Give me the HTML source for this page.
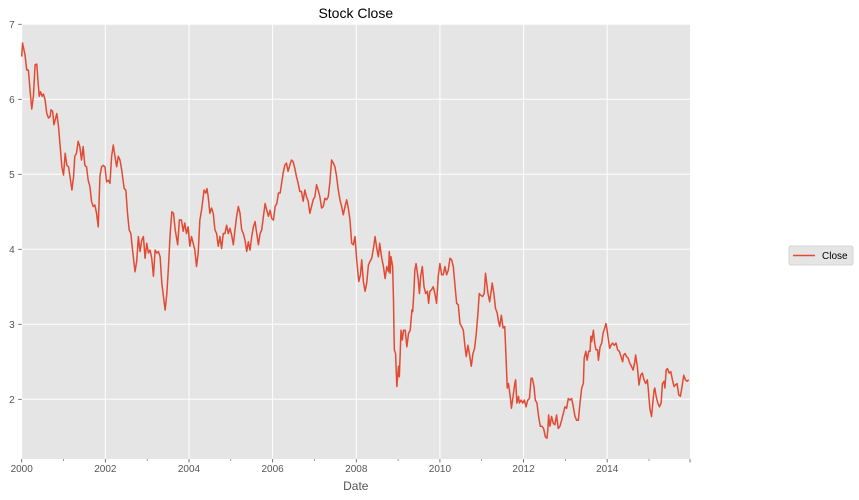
<!DOCTYPE html>
<html><head><meta charset="utf-8"><style>
html,body{margin:0;padding:0;background:#fff;}
svg{display:block;font-family:"Liberation Sans","DejaVu Sans",sans-serif;}
</style></head><body>
<svg id="chart" width="859" height="500" viewBox="0 0 859 500" xmlns="http://www.w3.org/2000/svg">
<rect x="21.7" y="24.3" width="668.3" height="434.7" fill="#e5e5e5"/>
<g id="grid"></g>
<g id="axes"></g>
<path id="line" fill="none" stroke="#e24a33" stroke-width="1.5" stroke-linejoin="round"/>
<text x="355.8" y="18" text-anchor="middle" font-size="14" fill="#000">Stock Close</text>
<text x="355.8" y="490" text-anchor="middle" font-size="12" fill="#555">Date</text>
<g>
<rect x="789" y="246" width="64" height="19" rx="2" fill="#e5e5e5" stroke="#ccc" stroke-width="0.8"/>
<line x1="793" y1="255.5" x2="815" y2="255.5" stroke="#e24a33" stroke-width="1.5"/>
<text x="822" y="259" font-size="10" fill="#000">Close</text>
</g>
</svg>
<script>
const years=[2000.00,2000.02,2000.08,2000.12,2000.16,2000.20,2000.24,2000.28,2000.32,2000.36,2000.40,2000.42,2000.45,2000.49,2000.52,2000.56,2000.60,2000.64,2000.68,2000.70,2000.74,2000.77,2000.84,2000.88,2000.92,2000.96,2001.00,2001.04,2001.08,2001.12,2001.16,2001.20,2001.24,2001.27,2001.31,2001.35,2001.39,2001.43,2001.47,2001.51,2001.55,2001.59,2001.63,2001.67,2001.71,2001.75,2001.79,2001.83,2001.87,2001.91,2001.95,2001.99,2002.03,2002.07,2002.11,2002.15,2002.19,2002.23,2002.27,2002.31,2002.35,2002.39,2002.45,2002.49,2002.53,2002.57,2002.61,2002.65,2002.71,2002.75,2002.79,2002.83,2002.87,2002.91,2002.95,2002.99,2003.03,2003.07,2003.11,2003.15,2003.19,2003.23,2003.27,2003.31,2003.35,2003.39,2003.43,2003.47,2003.51,2003.55,2003.59,2003.63,2003.67,2003.73,2003.77,2003.82,2003.86,2003.90,2003.94,2003.98,2004.02,2004.06,2004.10,2004.14,2004.18,2004.22,2004.26,2004.30,2004.36,2004.40,2004.43,2004.46,2004.50,2004.54,2004.58,2004.62,2004.66,2004.70,2004.74,2004.78,2004.82,2004.86,2004.90,2004.94,2004.98,2005.02,2005.06,2005.10,2005.14,2005.18,2005.22,2005.26,2005.30,2005.34,2005.38,2005.42,2005.46,2005.50,2005.54,2005.58,2005.62,2005.66,2005.70,2005.74,2005.78,2005.82,2005.86,2005.90,2005.94,2005.98,2006.02,2006.06,2006.10,2006.14,2006.18,2006.22,2006.25,2006.29,2006.33,2006.37,2006.41,2006.45,2006.49,2006.53,2006.57,2006.61,2006.65,2006.69,2006.73,2006.77,2006.81,2006.85,2006.89,2006.93,2006.97,2007.01,2007.05,2007.09,2007.13,2007.17,2007.21,2007.25,2007.29,2007.33,2007.37,2007.41,2007.45,2007.49,2007.53,2007.57,2007.61,2007.65,2007.69,2007.73,2007.77,2007.81,2007.85,2007.89,2007.93,2007.97,2008.01,2008.06,2008.10,2008.13,2008.17,2008.21,2008.25,2008.29,2008.33,2008.37,2008.41,2008.45,2008.49,2008.53,2008.56,2008.61,2008.65,2008.69,2008.73,2008.77,2008.79,2008.81,2008.83,2008.87,2008.89,2008.91,2008.94,2008.97,2009.01,2009.03,2009.07,2009.10,2009.13,2009.17,2009.21,2009.25,2009.29,2009.33,2009.35,2009.38,2009.40,2009.43,2009.48,2009.51,2009.54,2009.58,2009.62,2009.66,2009.70,2009.73,2009.76,2009.80,2009.84,2009.88,2009.92,2009.96,2010.00,2010.04,2010.08,2010.12,2010.16,2010.20,2010.24,2010.28,2010.32,2010.36,2010.40,2010.44,2010.48,2010.52,2010.56,2010.60,2010.63,2010.67,2010.71,2010.75,2010.79,2010.83,2010.87,2010.91,2010.94,2010.97,2011.02,2011.06,2011.09,2011.11,2011.15,2011.19,2011.23,2011.25,2011.29,2011.33,2011.37,2011.40,2011.43,2011.47,2011.51,2011.55,2011.59,2011.61,2011.64,2011.68,2011.71,2011.75,2011.79,2011.81,2011.84,2011.88,2011.90,2011.94,2011.98,2012.02,2012.06,2012.10,2012.14,2012.18,2012.21,2012.25,2012.28,2012.32,2012.36,2012.40,2012.44,2012.48,2012.52,2012.56,2012.58,2012.60,2012.63,2012.67,2012.71,2012.75,2012.79,2012.83,2012.87,2012.91,2012.95,2012.99,2013.03,2013.07,2013.11,2013.15,2013.19,2013.23,2013.27,2013.31,2013.35,2013.39,2013.43,2013.45,2013.49,2013.52,2013.56,2013.59,2013.61,2013.63,2013.67,2013.70,2013.73,2013.77,2013.79,2013.83,2013.87,2013.90,2013.94,2013.97,2013.99,2014.03,2014.06,2014.09,2014.13,2014.17,2014.21,2014.25,2014.29,2014.33,2014.37,2014.39,2014.43,2014.46,2014.50,2014.54,2014.58,2014.62,2014.66,2014.68,2014.72,2014.76,2014.80,2014.84,2014.88,2014.92,2014.96,2014.98,2015.02,2015.06,2015.09,2015.12,2015.14,2015.17,2015.21,2015.25,2015.29,2015.32,2015.36,2015.38,2015.41,2015.44,2015.48,2015.52,2015.56,2015.60,2015.63,2015.67,2015.71,2015.75,2015.79,2015.83,2015.87,2015.91,2015.95];
const closeValues=[6.57,6.75,6.59,6.39,6.39,6.12,5.87,6.04,6.46,6.47,6.17,6.04,6.10,6.04,6.07,5.99,5.81,5.75,5.77,5.86,5.84,5.66,5.81,5.64,5.37,5.10,4.99,5.28,5.12,5.10,4.95,4.79,4.97,5.24,5.28,5.44,5.37,5.19,5.37,5.12,5.10,4.92,4.84,4.64,4.57,4.59,4.48,4.30,4.97,5.10,5.12,5.10,4.90,4.92,4.88,5.24,5.39,5.24,5.10,5.24,5.19,5.06,4.81,4.79,4.48,4.26,4.21,3.99,3.70,3.84,4.17,3.97,4.12,4.17,3.88,4.08,3.95,3.99,3.88,3.64,3.99,3.95,3.97,3.90,3.55,3.37,3.19,3.41,3.77,4.21,4.50,4.48,4.26,4.06,4.39,4.39,4.24,4.35,4.21,4.30,4.04,4.17,4.08,3.99,3.77,3.95,4.39,4.52,4.79,4.75,4.81,4.70,4.48,4.55,4.48,4.26,4.21,4.04,4.17,4.01,4.21,4.21,4.32,4.21,4.28,4.19,4.06,4.26,4.44,4.57,4.48,4.26,4.21,4.12,3.97,4.10,3.99,4.17,4.30,4.37,4.21,4.06,4.21,4.26,4.44,4.61,4.52,4.44,4.52,4.41,4.39,4.57,4.61,4.75,4.75,4.90,5.01,5.12,5.15,5.04,5.12,5.19,5.17,5.08,4.97,4.88,4.77,4.77,4.64,4.79,4.70,4.64,4.48,4.57,4.66,4.70,4.86,4.79,4.70,4.55,4.57,4.68,4.66,4.70,4.90,5.19,5.15,5.10,4.97,4.79,4.66,4.57,4.46,4.57,4.66,4.55,4.39,4.08,4.06,4.17,3.86,3.57,3.66,3.86,3.57,3.44,3.55,3.79,3.84,3.88,4.01,4.17,4.01,3.90,4.08,3.88,3.77,3.61,3.77,3.70,3.97,3.68,3.90,3.77,3.32,2.66,2.61,2.17,2.44,2.30,2.92,2.79,2.92,2.92,2.70,2.88,2.92,3.19,3.17,3.46,3.72,3.81,3.61,3.41,3.64,3.77,3.50,3.41,3.44,3.28,3.44,3.46,3.50,3.41,3.28,3.64,3.81,3.66,3.66,3.77,3.66,3.72,3.88,3.86,3.77,3.52,3.28,3.26,3.01,2.97,2.92,2.70,2.57,2.72,2.59,2.44,2.61,2.68,2.88,3.15,3.41,3.39,3.37,3.41,3.68,3.59,3.41,3.30,3.46,3.55,3.41,3.21,3.15,3.04,2.97,3.12,2.95,2.97,2.44,2.15,2.21,2.04,1.88,2.04,2.21,2.26,1.95,2.04,1.95,1.99,1.95,1.99,1.90,1.99,2.01,2.28,2.28,2.17,1.99,1.95,1.77,1.64,1.64,1.61,1.50,1.48,1.59,1.79,1.64,1.77,1.68,1.66,1.79,1.61,1.64,1.72,1.81,1.90,1.88,2.01,1.99,2.01,1.90,1.77,1.72,1.72,1.95,2.15,2.21,2.55,2.64,2.52,2.64,2.64,2.84,2.77,2.92,2.75,2.66,2.66,2.52,2.70,2.75,2.88,2.95,3.01,2.95,2.79,2.68,2.72,2.75,2.72,2.75,2.66,2.64,2.57,2.50,2.59,2.61,2.57,2.55,2.48,2.44,2.39,2.50,2.59,2.44,2.19,2.32,2.35,2.26,2.21,2.26,2.15,1.88,1.77,1.95,2.12,2.15,2.04,1.95,1.90,1.95,2.21,2.24,2.15,2.39,2.41,2.35,2.37,2.26,2.17,2.19,2.21,2.06,2.04,2.17,2.32,2.26,2.24,2.26];
const yTicks=[2,3,4,5,6,7];
const xTickLabels=["2000","2002","2004","2006","2008","2010","2012","2014"];
const xMajorYears=[2000,2002,2004,2006,2008,2010,2012,2014,2016];
const xMinorYears=[2001,2003,2005,2007,2009,2011,2013,2015];

const L=21.7,R=690,T=24.3,B=459;
const X0=2000,X1=2015.98,Y0=1.204,Y1=7;
const xs=v=>L+(v-X0)/(X1-X0)*(R-L);
const ys=v=>B-(v-Y0)/(Y1-Y0)*(B-T);
const NS="http://www.w3.org/2000/svg";
function mk(tag,parent,attrs){const e=document.createElementNS(NS,tag);for(const k in attrs)e.setAttribute(k,attrs[k]);parent.appendChild(e);return e;}
const grid=document.getElementById('grid'),axes=document.getElementById('axes');
yTicks.forEach(v=>{
  const y=ys(v);
  const g=mk('line',grid,{x1:L,x2:R,y1:y,y2:y,stroke:'#fff','stroke-width':1});
  
  
  const t=mk('line',axes,{x1:L-3.5,x2:L,y1:y,y2:y,stroke:'#555','stroke-width':0.8});
  
  
  const tx=mk('text',axes,{x:L-7,y:y+3.5,'text-anchor':'end','font-size':10,fill:'#555'});
  tx.textContent=String(v);
  
  
});
xMajorYears.forEach((yr,i)=>{
  const x=xs(yr);
  if(yr<2016){
    const g=mk('line',grid,{x1:x,x2:x,y1:T,y2:B,stroke:'#fff','stroke-width':1});
    
    
  }
  const t=mk('line',axes,{x1:Math.min(x,R),x2:Math.min(x,R),y1:B,y2:B+3.5,stroke:'#555','stroke-width':0.8});
  
  
  if(xTickLabels[i]){
    const tx=mk('text',axes,{x:x,y:B+13,'text-anchor':'middle','font-size':10,fill:'#555'});
    tx.textContent=xTickLabels[i];
    
    
  }
});
xMinorYears.forEach(yr=>{
  const x=xs(yr);
  const t=mk('line',axes,{x1:x,x2:x,y1:B,y2:B+2,stroke:'#555','stroke-width':0.6});
  
  
});
let d='';
years.forEach((yr,i)=>{d+=(i?'L':'M')+xs(yr).toFixed(2)+' '+ys(closeValues[i]).toFixed(2);});
document.getElementById('line').setAttribute('d',d);
</script>
</body></html>
